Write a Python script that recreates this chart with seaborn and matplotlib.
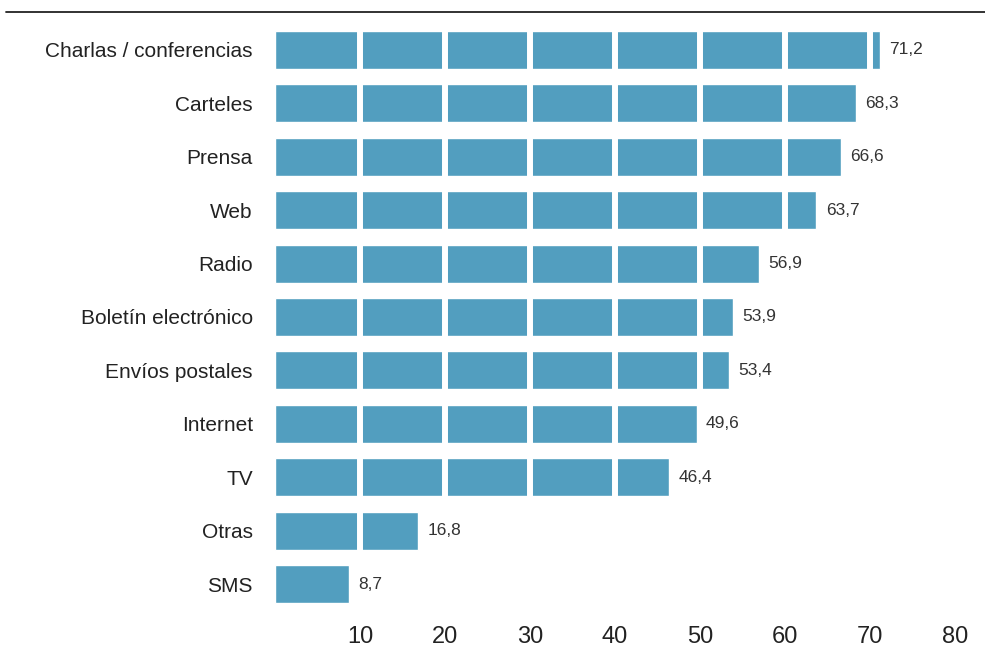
import matplotlib
matplotlib.use("Agg")
import matplotlib.pyplot as plt
import seaborn as sns
import pandas as pd
from matplotlib.lines import Line2D

categories = [
    "Charlas / conferencias", "Carteles", "Prensa", "Web", "Radio",
    "Boletín electrónico", "Envíos postales", "Internet", "TV", "Otras", "SMS",
]
values = [71.2, 68.3, 66.6, 63.7, 56.9, 53.9, 53.4, 49.6, 46.4, 16.8, 8.7]
xticks = [10, 20, 30, 40, 50, 60, 70, 80]

df = pd.DataFrame({"canal": categories, "pct": values})

sns.set_style("white")
plt.rcParams["font.family"] = ["Liberation Sans", "DejaVu Sans"]

fig = plt.figure(figsize=(9.85, 6.5), dpi=100)
ax = fig.add_axes([275 / 985, 1 - 615 / 650, 680 / 985, 595 / 650])

sns.barplot(data=df, y="canal", x="pct", color="#529EBF", width=0.71,
            saturation=1, ax=ax, zorder=1)

# white separators every 10 points
for t in xticks[:-1]:
    ax.axvline(t, color="white", lw=4.3, zorder=2)

for i, v in enumerate(values):
    ax.text(v + 1.1, i, f"{v:.1f}".replace(".", ","), va="center", ha="left",
            fontsize=12.5, color="#333333")

ax.set_xlim(0, 80)
ax.set_ylim(10.58, -0.56)
ax.set_xticks(xticks)
ax.set_xticklabels([str(t) for t in xticks], fontsize=17, color="#222222")
ax.tick_params(axis="y", labelsize=15, length=0, pad=16, labelcolor="#222222")
ax.tick_params(axis="x", length=0, pad=8)
ax.set_xlabel("")
ax.set_ylabel("")
sns.despine(ax=ax, left=True, bottom=True)

fig.add_artist(Line2D([6 / 985, 1], [1 - 12 / 650, 1 - 12 / 650],
                      color="#222222", lw=1.3, transform=fig.transFigure))

fig.savefig("out.png", dpi=100)
